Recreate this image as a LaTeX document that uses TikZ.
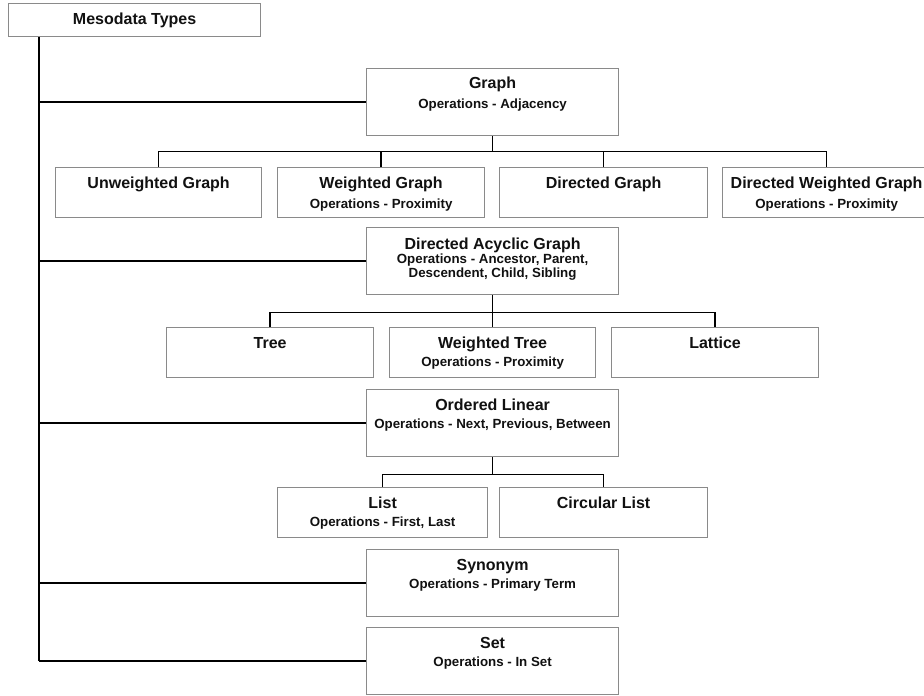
\documentclass[tikz,border=0pt]{standalone}
\usepackage{fontspec}
\setmainfont{Liberation Sans}
\usetikzlibrary{calc}

\definecolor{boxline}{HTML}{8A8A8A}
\definecolor{ink}{HTML}{111111}

\tikzset{
  box/.style={draw=boxline, line width=1.2pt, fill=white, rectangle, inner sep=0pt},
  ttl/.style={anchor=base, inner sep=0pt, text=ink, font=\bfseries\fontsize{16}{18}\selectfont},
  sbl/.style={anchor=base, inner sep=0pt, text=ink, font=\bfseries\fontsize{13.3}{15}\selectfont},
  link/.style={draw=black, line width=1.3pt}
}

% box: name, left, top, right, bottom (y grows downwards)
\newcommand{\boxat}[5]{%
  \node[box, anchor=north west, minimum width={(#4-#2)*1pt},
        minimum height={(#5-#3)*1pt}] (#1) at (#2,#3) {};}
% title line: box name, baseline offset below box top, text
\newcommand{\ttlat}[3]{\node[ttl] (#1-t) at ($(#1.north)+(0,#2)$) {#3};}
% subtitle line: node name, box name, baseline offset, text
\newcommand{\sblat}[4]{\node[sbl] (#1) at ($(#2.north)+(0,#3)$) {#4};}

\begin{document}
\begin{tikzpicture}[x=1pt, y=-1pt]
\useasboundingbox (0,0) rectangle (924,696);

% root
\boxat{meso}{8}{3}{260}{36}
\ttlat{meso}{21}{Mesodata Types}

% main types
\boxat{graph}{366}{68}{618}{135}
\ttlat{graph}{20.3}{Graph}
\sblat{graph-s}{graph}{40.3}{Operations - Adjacency}

\boxat{dag}{366}{227}{618}{294}
\ttlat{dag}{22}{Directed Acyclic Graph}
\sblat{dag-s}{dag}{36.3}{Operations - Ancestor, Parent,}
\sblat{dag-s2}{dag}{50.3}{Descendent, Child, Sibling}

\boxat{ol}{366}{389}{618}{456}
\ttlat{ol}{21.5}{Ordered Linear}
\sblat{ol-s}{ol}{39.6}{Operations - Next, Previous, Between}

\boxat{syn}{366}{549}{618}{616}
\ttlat{syn}{21.7}{Synonym}
\sblat{syn-s}{syn}{39.5}{Operations - Primary Term}

\boxat{set}{366}{627}{618}{694}
\ttlat{set}{21.3}{Set}
\sblat{set-s}{set}{39.6}{Operations - In Set}

% graph subtypes
\boxat{ug}{55}{167}{261}{217}
\ttlat{ug}{21.3}{Unweighted Graph}
\boxat{wg}{277}{167}{484}{217}
\ttlat{wg}{21.3}{Weighted Graph}
\sblat{wg-s}{wg}{41.3}{Operations - Proximity}
\boxat{dg}{499}{167}{707}{217}
\ttlat{dg}{21.3}{Directed Graph}
\boxat{dwg}{722}{167}{930}{217}
\ttlat{dwg}{21.3}{Directed Weighted Graph}
\sblat{dwg-s}{dwg}{41.3}{Operations - Proximity}

% DAG subtypes
\boxat{tree}{166}{327}{373}{377}
\ttlat{tree}{21.3}{Tree}
\boxat{wt}{389}{327}{595}{377}
\ttlat{wt}{21.3}{Weighted Tree}
\sblat{wt-s}{wt}{39.6}{Operations - Proximity}
\boxat{lat}{611}{327}{818}{377}
\ttlat{lat}{21.3}{Lattice}

% ordered linear subtypes
\boxat{list}{277}{487}{487}{537}
\ttlat{list}{21.3}{List}
\sblat{list-s}{list}{39.6}{Operations - First, Last}
\boxat{cl}{499}{487}{707}{537}
\ttlat{cl}{21.3}{Circular List}

% trunk from the root to each main type
\coordinate (trunk) at ([xshift=31pt]meso.south west);
\draw[link] (trunk) -- (trunk |- set.west);
\foreach \b in {graph,dag,ol,syn,set}
  \draw[link] (trunk |- \b.west) -- (\b.west);

% graph bus
\coordinate (gbus) at ($(graph.south)+(0,15)$);
\draw[link] (graph.south) -- (gbus);
\draw[link] (ug.north) |- (gbus) -| (dwg.north);
\draw[link] (wg.north) -- (wg.north |- gbus);
\draw[link] (dg.north) -- (dg.north |- gbus);

% DAG bus
\coordinate (dbus) at ($(dag.south)+(0,17)$);
\draw[link] (dag.south) -- (wt.north);
\draw[link] (tree.north) |- (dbus) -| (lat.north);

% ordered linear bus
\coordinate (obus) at ($(ol.south)+(0,17)$);
\draw[link] (ol.south) -- (obus);
\draw[link] (list.north) |- (obus) -| (cl.north);
\end{tikzpicture}
\end{document}
